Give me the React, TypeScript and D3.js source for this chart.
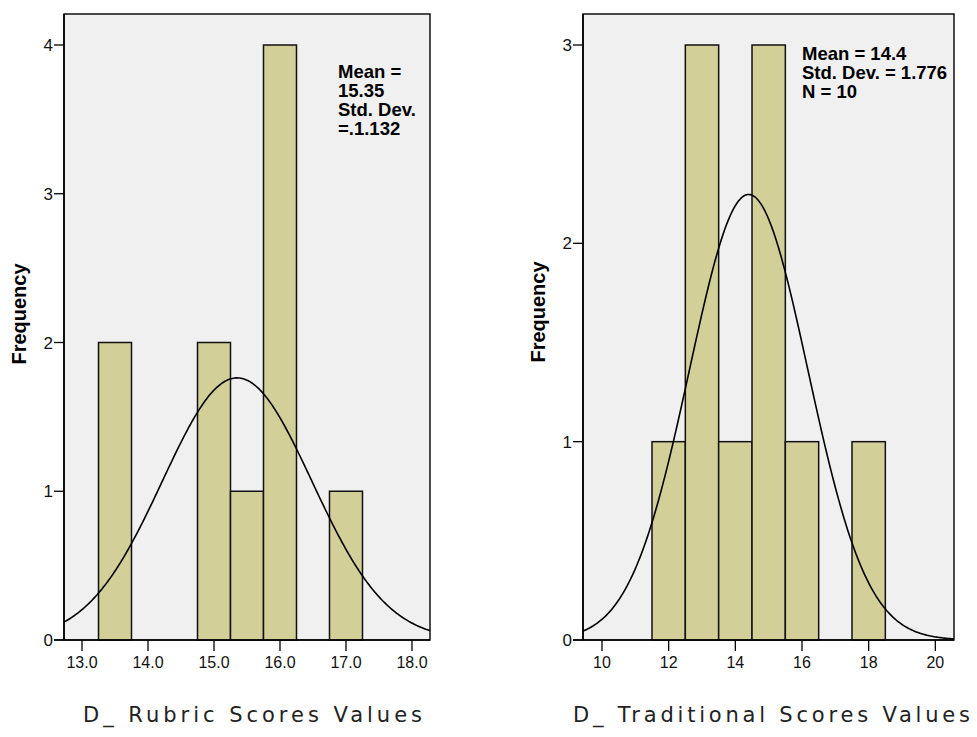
import React from "react";
import * as d3 from "d3";

// ---- Data ----
const rubricBinCenters = [13.5, 15.0, 15.5, 16.0, 17.0];
const rubricCounts = [2, 2, 1, 4, 1];
const rubricBinWidth = 0.5;
const rubricXTicks = [13.0, 14.0, 15.0, 16.0, 17.0, 18.0];
const rubricYTicks = [0, 1, 2, 3, 4];
const rubricStats = { mean: 15.35, sd: 1.132, n: 10 };
const rubricAnnotation = ["Mean =", "15.35", "Std. Dev.", "=.1.132"];

const tradBinCenters = [12, 13, 14, 15, 16, 18];
const tradCounts = [1, 3, 1, 3, 1, 1];
const tradBinWidth = 1;
const tradXTicks = [10, 12, 14, 16, 18, 20];
const tradYTicks = [0, 1, 2, 3];
const tradStats = { mean: 14.4, sd: 1.776, n: 10 };
const tradAnnotation = ["Mean = 14.4", "Std. Dev. = 1.776", "N = 10"];

const BG = "#f0f0f0";
const BAR = "#d3cf99";
const FONT = "'Liberation Sans', Arial, sans-serif";

type PanelProps = {
  id: string;
  centers: number[];
  counts: number[];
  binWidth: number;
  xTicks: number[];
  yTicks: number[];
  stats: { mean: number; sd: number; n: number };
  annotation: string[];
  xDomain: [number, number];
  xRange: [number, number];
  yMaxTick: number;
  xFmt: (v: number) => string;
  annX: number;
  annY: number;
  title: string;
  titleX: [number, number];
  freqX: number;
  freqY: number;
};

function Panel(p: PanelProps) {
  const top = 14;
  const x = d3.scaleLinear().domain(p.xDomain).range(p.xRange);
  const y = d3.scaleLinear().domain([0, p.yMaxTick]).range([640, 45]);
  const [x0, x1] = p.xRange;
  const bottom = y(0);

  const peak = (p.stats.n * p.binWidth) / (p.stats.sd * Math.sqrt(2 * Math.PI));
  const xs = d3.range(0, 301).map((i) => p.xDomain[0] + ((p.xDomain[1] - p.xDomain[0]) * i) / 300);
  const line = d3
    .line<number>()
    .x((v) => x(v))
    .y((v) => y(peak * Math.exp(-0.5 * ((v - p.stats.mean) / p.stats.sd) ** 2)));

  return (
    <g>
      <defs>
        <clipPath id={p.id}>
          <rect x={x0} y={top} width={x1 - x0} height={bottom - top} />
        </clipPath>
      </defs>
      <rect x={x0} y={top} width={x1 - x0} height={bottom - top} fill={BG} stroke="#000" strokeWidth={1.4} />
      {p.centers.map((c, i) => (
        <rect
          key={i}
          x={x(c - p.binWidth / 2)}
          y={y(p.counts[i])}
          width={x(c + p.binWidth / 2) - x(c - p.binWidth / 2)}
          height={bottom - y(p.counts[i])}
          fill={BAR}
          stroke="#111"
          strokeWidth={1.5}
        />
      ))}
      <path d={line(xs) || ""} fill="none" stroke="#000" strokeWidth={1.6} clipPath={`url(#${p.id})`} />
      {/* axes */}
      <line x1={x0} x2={x0} y1={top} y2={bottom} stroke="#000" strokeWidth={1.6} />
      <line x1={x0 - 10} x2={x1} y1={bottom} y2={bottom} stroke="#000" strokeWidth={1.6} />
      {p.yTicks.map((t) => (
        <g key={"y" + t}>
          <line x1={x0 - 10} x2={x0} y1={y(t)} y2={y(t)} stroke="#000" strokeWidth={1.3} />
          <text x={x0 - 11} y={y(t) + 6} textAnchor="end" fontFamily={FONT} fontSize={17} fill="#111">
            {t}
          </text>
        </g>
      ))}
      {p.xTicks.map((t) => (
        <g key={"x" + t}>
          <line x1={x(t)} x2={x(t)} y1={bottom} y2={bottom + 11} stroke="#000" strokeWidth={1.3} />
          <text x={x(t)} y={668} textAnchor="middle" fontFamily={FONT} fontSize={16} fill="#111">
            {p.xFmt(t)}
          </text>
        </g>
      ))}
      {p.annotation.map((s, i) => (
        <text key={i} x={p.annX} y={p.annY + i * 19} fontFamily={FONT} fontWeight="bold" fontSize={18.5} fill="#000">
          {s}
        </text>
      ))}
      <text
        transform={`translate(${p.freqX},${p.freqY}) rotate(-90)`}
        textAnchor="middle"
        fontFamily={FONT}
        fontWeight="bold"
        fontSize={20}
        fill="#000"
      >
        Frequency
      </text>
      <text
        x={p.titleX[0]}
        y={722}
        textLength={p.titleX[1] - p.titleX[0]}
        lengthAdjust="spacing"
        fontFamily="'DejaVu Sans', Verdana, sans-serif"
        fontSize={21}
        fill="#222"
      >
        {p.title}
      </text>
    </g>
  );
}

export default function App() {
  return (
    <svg
      width={977}
      height={737}
      style={{ position: "absolute", left: 0, top: 0, display: "block", background: "#fff" }}
    >
      <rect width={977} height={737} fill="#fff" />
      <Panel
        id="clipL"
        centers={rubricBinCenters}
        counts={rubricCounts}
        binWidth={rubricBinWidth}
        xTicks={rubricXTicks}
        yTicks={rubricYTicks}
        stats={rubricStats}
        annotation={rubricAnnotation}
        xDomain={[12.727, 18.273]}
        xRange={[64, 430]}
        yMaxTick={4}
        xFmt={(v) => v.toFixed(1)}
        annX={338}
        annY={78}
        title="D_ Rubric Scores Values"
        titleX={[83, 422]}
        freqX={26}
        freqY={314}
      />
      <Panel
        id="clipR"
        centers={tradBinCenters}
        counts={tradCounts}
        binWidth={tradBinWidth}
        xTicks={tradXTicks}
        yTicks={tradYTicks}
        stats={tradStats}
        annotation={tradAnnotation}
        xDomain={[9.43, 20.56]}
        xRange={[583, 954]}
        yMaxTick={3}
        xFmt={(v) => String(v)}
        annX={802}
        annY={60}
        title="D_ Traditional Scores Values"
        titleX={[573, 970]}
        freqX={545}
        freqY={312}
      />
    </svg>
  );
}
